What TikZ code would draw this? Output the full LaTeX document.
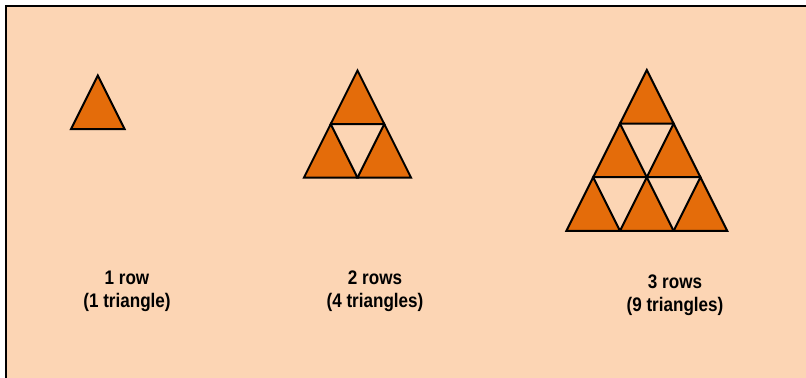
\documentclass[tikz,border=0pt]{standalone}
\usepackage{fontspec}
\setmainfont{Liberation Sans}
\usetikzlibrary{positioning}
\definecolor{peach}{HTML}{FCD5B4}
\definecolor{triorange}{HTML}{E46C0A}

\begin{document}
\begin{tikzpicture}[
  x=0.75pt, y=-0.75pt,
  panel/.style={fill=peach},
  frame/.style={draw=black, line width=2pt},
  tri/.style={fill=triorange, draw=black, line width=1.5pt, line join=miter},
  lbl/.style={font=\fontsize{12.8}{17.5}\selectfont\bfseries, align=center, inner sep=0pt},
]
% ---- canvas ----
\useasboundingbox (0,0) rectangle (806,378);
\clip (0,0) rectangle (806,378);
\fill[white] (0,0) rectangle (806,378);
\fill[panel] (6,6) rectangle (812,384);
\draw[frame] (6,384) -- (6,6) -- (812,6);
% ---- triangle stacks: apex x / apex y / rows ----
\def\w{53.6}
\def\h{53.6}
\foreach \ax/\ay/\n in {97.8/75.5/1, 357.5/70.5/2, 646.8/70/3}
  \foreach \r in {1,...,\n}
    \foreach \k in {1,...,\r}
      \filldraw[tri] ({\ax+(\k-1-(\r-1)/2)*\w}, {\ay+(\r-1)*\h})
        -- ++(-\w/2, \h) -- ++(\w, 0) -- cycle;
% ---- labels ----
\node[lbl] (rows1) at (127,291.5) {\scalebox{1}[1.15]{1 row}\\\scalebox{1}[1.15]{(1 triangle)}};
\node[lbl] (rows2) at (375,291.5) {\scalebox{1}[1.15]{2 rows}\\\scalebox{1}[1.15]{(4 triangles)}};
\node[lbl] (rows3) at (675,295.5) {\scalebox{1}[1.15]{3 rows}\\\scalebox{1}[1.15]{(9 triangles)}};
\end{tikzpicture}
\end{document}
